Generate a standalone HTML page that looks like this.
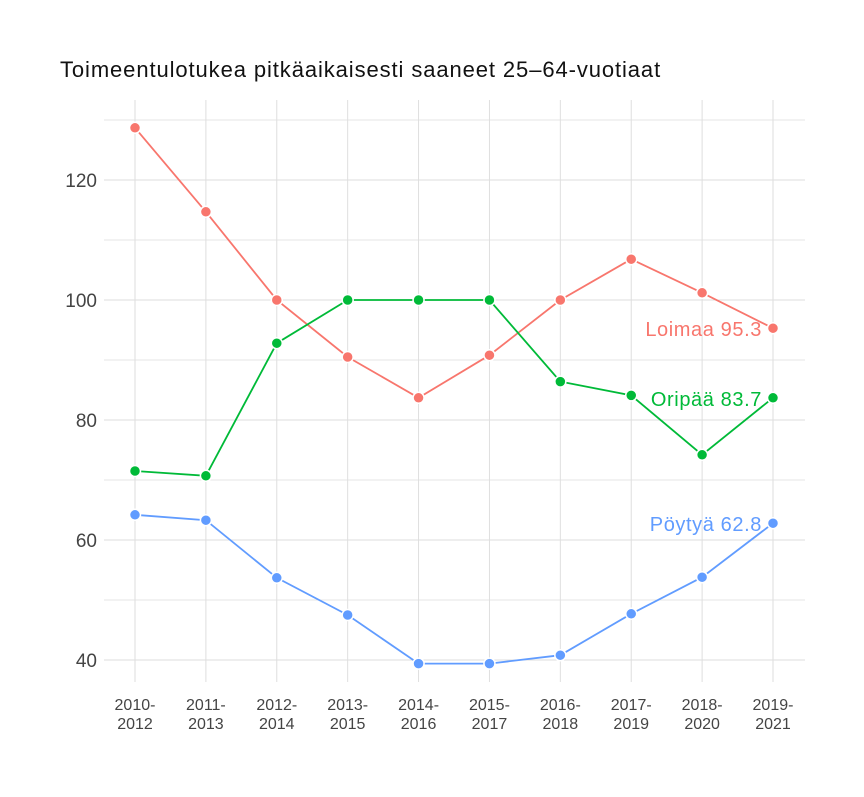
<!DOCTYPE html>
<html><head><meta charset="utf-8"><style>
body{margin:0;background:#fff;font-family:"Liberation Sans",sans-serif}
</style></head><body>
<svg id="chart" width="864" height="792" xmlns="http://www.w3.org/2000/svg">
<text x="60" y="77" font-size="22" letter-spacing="0.9" fill="#111">Toimeentulotukea pitkäaikaisesti saaneet 25–64-vuotiaat</text>
<g id="grid"></g><g id="axes"></g><g id="series"></g>
</svg>
<script>
const categories=["2010-2012","2011-2013","2012-2014","2013-2015","2014-2016","2015-2017","2016-2018","2017-2019","2018-2020","2019-2021"];
const loimaa=[128.7,114.7,100,90.5,83.7,90.8,100,106.8,101.2,95.3];
const oripaa=[71.5,70.7,92.8,100,100,100,86.4,84.1,74.2,83.7];
const poytya=[64.2,63.3,53.7,47.5,39.4,39.4,40.8,47.7,53.8,62.8];
const yTicks=[40,60,80,100,120];
const yMinor=[50,70,90,110,130];
const seriesNames=["Loimaa","Oripää","Pöytyä"];
const NS="http://www.w3.org/2000/svg";
const X=i=>135+i*(773-135)/9;
const Y=v=>300-(v-100)*6;
function mk(t,a,p){const e=document.createElementNS(NS,t);for(const k in a)e.setAttribute(k,a[k]);p.appendChild(e);return e;}
const g=document.getElementById('grid'),ax=document.getElementById('axes'),se=document.getElementById('series');
yMinor.forEach(v=>{const l=mk('line',{x1:104,x2:805,y1:Y(v),y2:Y(v),stroke:'#e6e6e6','stroke-width':1},g);

});
yTicks.forEach(v=>{const l=mk('line',{x1:104,x2:805,y1:Y(v),y2:Y(v),stroke:'#dedede','stroke-width':1},g);


const t=mk('text',{x:97,y:Y(v)+7,'text-anchor':'end','font-size':19,fill:'#444'},ax);t.textContent=v;

});
categories.forEach((c,i)=>{const l=mk('line',{x1:X(i),x2:X(i),y1:100,y2:682,stroke:'#dedede','stroke-width':1},g);


const p=c.split('-');
const t=mk('text',{x:X(i),y:710,'text-anchor':'middle','font-size':16,fill:'#444'},ax);


mk('tspan',{x:X(i)},t).textContent=p[0]+'-';mk('tspan',{x:X(i),dy:19},t).textContent=p[1];});
const data=[loimaa,oripaa,poytya],cols=['#f8766d','#00ba38','#619cff'];
data.forEach((d,s)=>{const pts=d.map((v,i)=>X(i)+','+Y(v)).join(' ');
const pl=mk('polyline',{points:pts,fill:'none',stroke:cols[s],'stroke-width':1.8},se);


d.forEach((v,i)=>{const c=mk('circle',{cx:X(i),cy:Y(v),r:5.5,fill:cols[s],stroke:'#fff','stroke-width':1.5},se);

});
const last=d[d.length-1];
const t=mk('text',{x:762,y:Y(last)+8,'text-anchor':'end','font-size':20,'letter-spacing':0.6,fill:cols[s]},se);
t.textContent=seriesNames[s]+' '+last.toFixed(1);

});
</script>
</body></html>
